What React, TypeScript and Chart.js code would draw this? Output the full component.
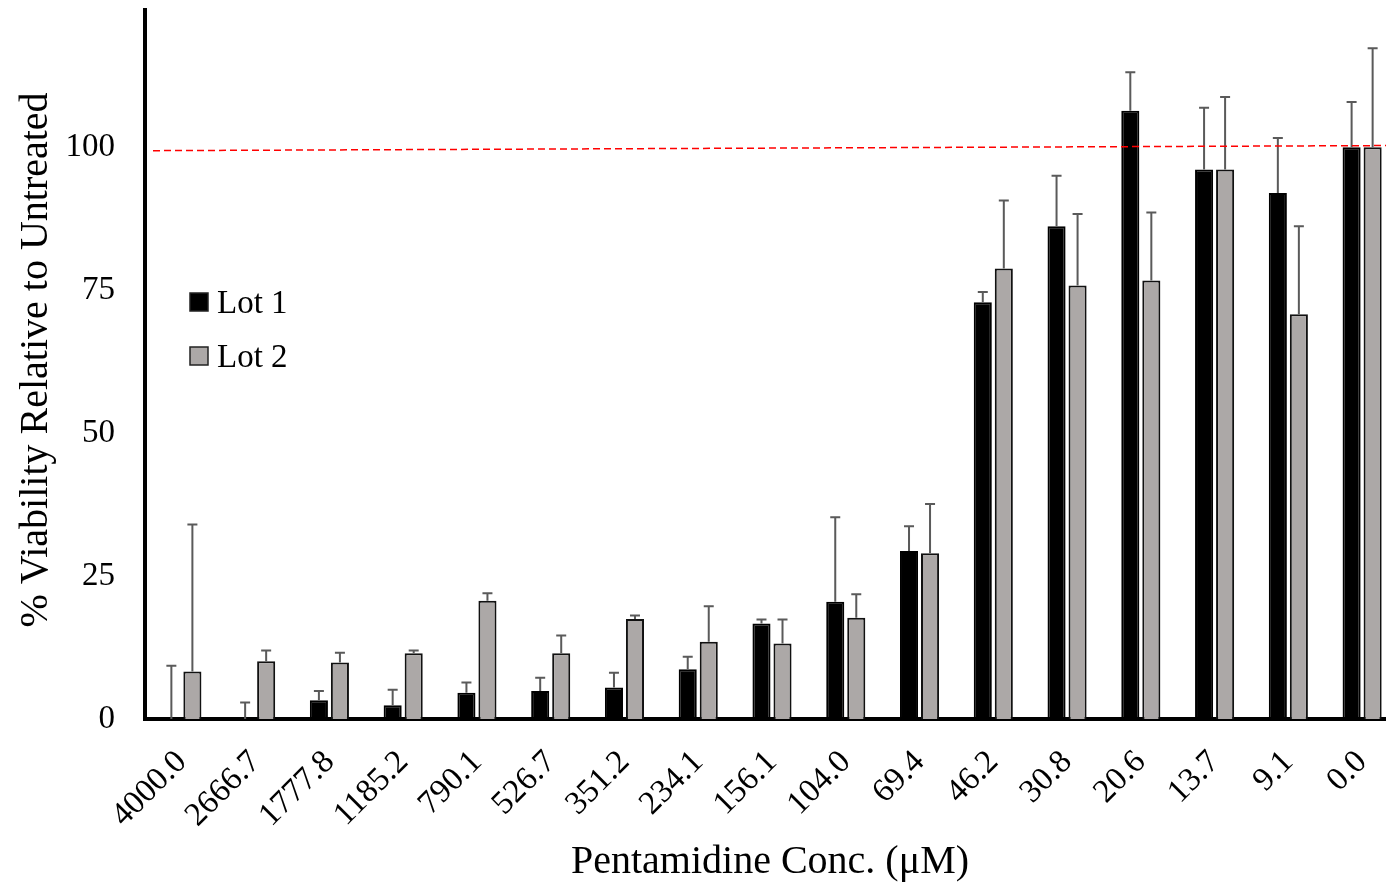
import React, { useEffect, useRef } from "react";
import { Chart, registerables } from "chart.js";

Chart.register(...registerables);

const categories = [
  "4000.0", "2666.7", "1777.8", "1185.2", "790.1", "526.7", "351.2", "234.1",
  "156.1", "104.0", "69.4", "46.2", "30.8", "20.6", "13.7", "9.1", "0.0",
];
const seriesNames = ["Lot 1", "Lot 2"];
const lot1 = [0, 0, 3.3, 2.4, 4.6, 4.9, 5.5, 8.7, 16.7, 20.5, 29.4, 72.9, 86.2, 106.4, 96.1, 92.0, 100];
const lot1Err = [9.3, 2.9, 1.6, 2.7, 1.8, 2.3, 2.6, 2.2, 0.7, 14.8, 4.3, 1.8, 8.8, 6.7, 10.8, 9.6, 7.9];
const lot2 = [8.3, 10.1, 9.9, 11.5, 20.7, 11.5, 17.5, 13.5, 13.2, 17.7, 29.0, 78.8, 75.8, 76.7, 96.1, 70.8, 100];
const lot2Err = [25.7, 1.9, 1.7, 0.5, 1.3, 3.1, 0.6, 6.2, 4.2, 4.1, 8.6, 11.9, 12.5, 11.9, 12.7, 15.4, 17.3];
const yTicks = [0, 25, 50, 75, 100];
const yMax = 124;
const refLine = [99.4, 100.3];
const yTitle = "% Viability Relative to Untreated";
const xTitle = "Pentamidine Conc. (\u03BCM)";

const FONT = '"Liberation Serif", "Times New Roman", serif';
const GRAY = "#aca8a7";

const overlay = {
  id: "overlay",
  afterDatasetsDraw(chart: any) {
    const ctx = chart.ctx;
    const ys = chart.scales.y;
    const errs = [lot1Err, lot2Err];
    ctx.save();
    chart.data.datasets.forEach((ds: any, di: number) => {
      const meta = chart.getDatasetMeta(di);
      meta.data.forEach((el: any, i: number) => {
        const v = ds.data[i];
        const e = errs[di][i];
        const x = el.x;
        const y0 = ys.getPixelForValue(v);
        const y1 = ys.getPixelForValue(v + e);
        ctx.strokeStyle = "#5a5a5a";
        ctx.lineWidth = 2;
        ctx.beginPath();
        ctx.moveTo(x, y0);
        ctx.lineTo(x, y1);
        ctx.moveTo(x - 5, y1);
        ctx.lineTo(x + 5, y1);
        ctx.stroke();
      });
    });
    const { left, right } = chart.chartArea;
    ctx.setLineDash([7, 4]);
    ctx.strokeStyle = "#ff0000";
    ctx.lineWidth = 1.5;
    ctx.beginPath();
    ctx.moveTo(left + 8, ys.getPixelForValue(refLine[0]));
    ctx.lineTo(right, ys.getPixelForValue(refLine[1]));
    ctx.stroke();
    ctx.restore();
  },
  afterDraw(chart: any) {
    const ctx = chart.ctx;
    ctx.save();
    ctx.fillStyle = "#000";
    // y title
    ctx.font = `40px ${FONT}`;
    ctx.textAlign = "center";
    ctx.textBaseline = "middle";
    ctx.translate(36, 360);
    ctx.rotate(-Math.PI / 2);
    ctx.fillText(yTitle, 0, 0);
    ctx.setTransform(1, 0, 0, 1, 0, 0);
    // x title
    ctx.font = `40px ${FONT}`;
    ctx.fillText(xTitle, 770, 862);
    // legend
    const fills = ["#000", GRAY];
    const rowsY = [302, 356];
    ctx.textAlign = "left";
    ctx.textBaseline = "alphabetic";
    ctx.font = `33px ${FONT}`;
    seriesNames.forEach((n, i) => {
      ctx.fillStyle = fills[i];
      ctx.fillRect(190, rowsY[i] - 9, 18, 18);
      ctx.strokeStyle = "#222";
      ctx.lineWidth = 1.5;
      ctx.strokeRect(190, rowsY[i] - 9, 18, 18);
      ctx.fillStyle = "#000";
      ctx.fillText(n, 217, rowsY[i] + 11);
    });
    ctx.restore();
  },
};

export default function App() {
  const ref = useRef<HTMLCanvasElement>(null);
  useEffect(() => {
    if (!ref.current) return;
    const chart = new Chart(ref.current, {
      type: "bar",
      data: {
        labels: categories,
        datasets: [
          {
            label: seriesNames[0],
            data: lot1,
            backgroundColor: "#000",
            borderColor: "#000",
            borderWidth: 2,
            categoryPercentage: 0.57,
            barPercentage: 0.86,
          },
          {
            label: seriesNames[1],
            data: lot2,
            backgroundColor: GRAY,
            borderColor: "#111",
            borderWidth: 2,
            categoryPercentage: 0.57,
            barPercentage: 0.86,
          },
        ],
      },
      options: {
        responsive: false,
        animation: false,
        layout: { padding: { top: 10, right: 1, left: 0, bottom: 0 } },
        plugins: { legend: { display: false }, tooltip: { enabled: false } },
        scales: {
          x: {
            grid: { display: false, drawTicks: false },
            border: { display: true, color: "#000", width: 4 },
            ticks: {
              font: { family: FONT, size: 33 },
              color: "#000",
              minRotation: 45,
              maxRotation: 45,
              autoSkip: false,
              padding: 24,
            },
            afterFit: (s: any) => {
              s.height = 167;
              s.paddingLeft = 0;
              s.paddingRight = 0;
            },
          },
          y: {
            min: 0,
            max: yMax,
            grid: { display: false, drawTicks: false },
            border: { display: true, color: "#000", width: 4 },
            ticks: { font: { family: FONT, size: 33 }, color: "#000", padding: 30 },
            afterBuildTicks: (s: any) => {
              s.ticks = yTicks.map((v) => ({ value: v }));
            },
            afterFit: (s: any) => {
              s.width = 145;
              s.paddingTop = 0;
              s.paddingBottom = 0;
            },
          },
        },
      } as any,
      plugins: [overlay],
    });
    return () => chart.destroy();
  }, []);
  return (
    <div style={{ position: "fixed", left: 0, top: 0, width: 1386, height: 886, overflow: "hidden", background: "#fff" }}>
      <canvas ref={ref} width={1400} height={886} style={{ display: "block" }} />
    </div>
  );
}
